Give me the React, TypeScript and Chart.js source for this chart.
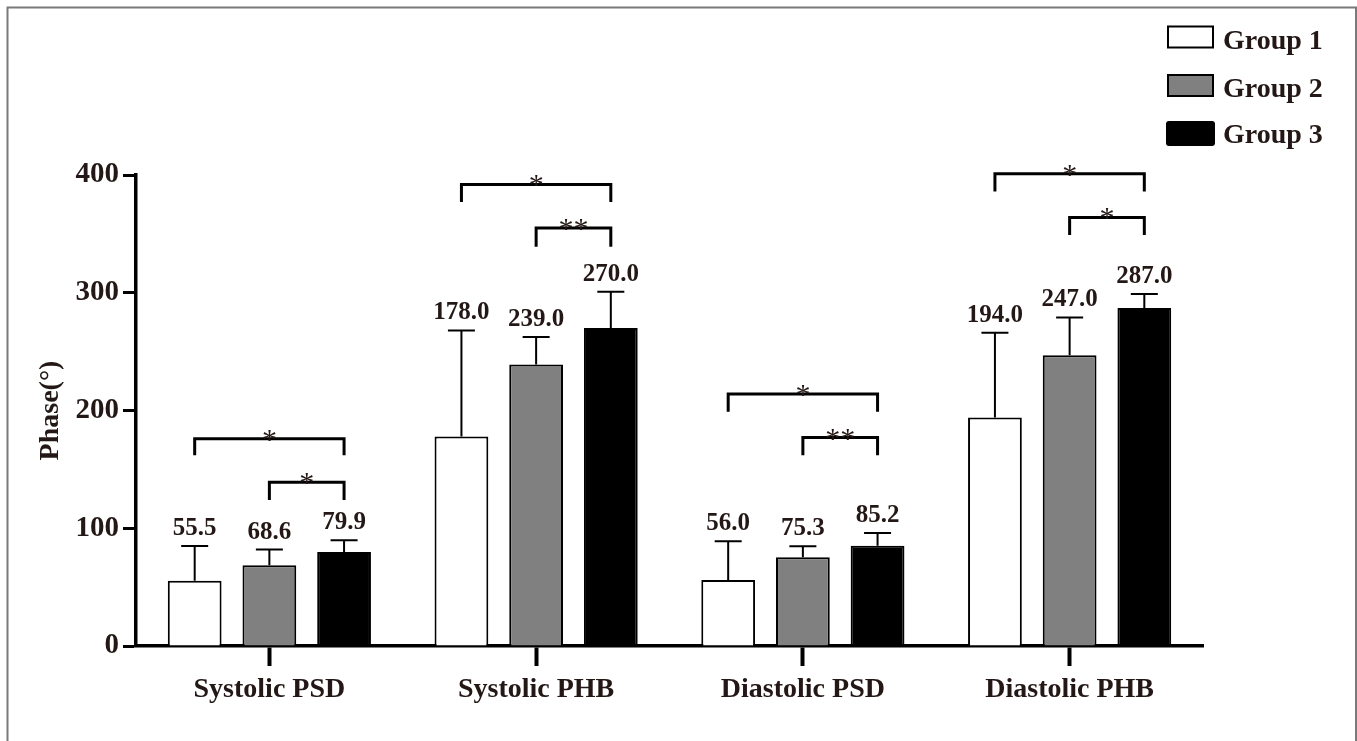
import React, { useEffect, useRef } from 'react';
import { Chart, registerables } from 'chart.js';

Chart.register(...registerables);

const categories = ['Systolic PSD', 'Systolic PHB', 'Diastolic PSD', 'Diastolic PHB'];
const groupLabels = ['Group 1', 'Group 2', 'Group 3'];
const group1Values = [55.5, 178.0, 56.0, 194.0];
const group2Values = [68.6, 239.0, 75.3, 247.0];
const group3Values = [79.9, 270.0, 85.2, 287.0];
const group1Errors = [29.5, 90, 33, 72];
const group2Errors = [13.3, 23.5, 9.4, 32];
const group3Errors = [9.9, 30.8, 10.8, 12];
const yTickValues = [0, 100, 200, 300, 400];
const yTitle = 'Phase(°)';

// significance brackets
const bracketCategory = [0, 0, 1, 1, 2, 2, 3, 3];
const bracketFrom = [0, 1, 0, 1, 0, 1, 0, 1];
const bracketTo = [2, 2, 2, 2, 2, 2, 2, 2];
const bracketLine = [176, 139, 392, 355, 214, 177, 401, 364];
const bracketLeg = [162, 124, 377, 339, 199, 162, 386, 349];
const bracketText = ['*', '*', '*', '**', '*', '**', '*', '*'];

const TEXT = '#231815';
const FONT = '"Liberation Serif", "Times New Roman", serif';
const fills = ['#ffffff', '#808080', '#000000'];
const valueSets = [group1Values, group2Values, group3Values];
const errorSets = [group1Errors, group2Errors, group3Errors];

const overlayPlugin = {
  id: 'overlay',
  beforeDraw(chart: any) {
    const ctx = chart.ctx;
    ctx.save();
    ctx.fillStyle = '#ffffff';
    ctx.fillRect(0, 0, chart.width, chart.height);
    ctx.restore();
  },
  afterDatasetsDraw(chart: any) {
    const ctx = chart.ctx;
    const y = chart.scales.y;
    ctx.save();
    // error bars and value labels
    chart.data.datasets.forEach((ds: any, di: number) => {
      const meta = chart.getDatasetMeta(di);
      meta.data.forEach((bar: any, i: number) => {
        const v = ds.data[i];
        const e = errorSets[di][i];
        const xc = bar.x;
        const yTop = y.getPixelForValue(v);
        const yCap = y.getPixelForValue(v + e);
        ctx.strokeStyle = '#000';
        ctx.lineWidth = 2;
        ctx.beginPath();
        ctx.moveTo(xc, yTop);
        ctx.lineTo(xc, yCap);
        ctx.moveTo(xc - 13.5, yCap);
        ctx.lineTo(xc + 13.5, yCap);
        ctx.stroke();
        ctx.fillStyle = TEXT;
        ctx.font = 'bold 25px ' + FONT;
        ctx.textAlign = 'center';
        ctx.textBaseline = 'alphabetic';
        ctx.fillText(v.toFixed(1), xc, yCap - 11);
      });
    });
    // brackets
    bracketCategory.forEach((c, k) => {
      const b1 = chart.getDatasetMeta(bracketFrom[k]).data[c];
      const b2 = chart.getDatasetMeta(bracketTo[k]).data[c];
      const yl = y.getPixelForValue(bracketLine[k]);
      const yg = y.getPixelForValue(bracketLeg[k]);
      ctx.strokeStyle = '#000';
      ctx.lineWidth = 3;
      ctx.lineJoin = 'miter';
      ctx.lineCap = 'butt';
      ctx.beginPath();
      ctx.moveTo(b1.x, yg);
      ctx.lineTo(b1.x, yl);
      ctx.lineTo(b2.x, yl);
      ctx.lineTo(b2.x, yg);
      ctx.stroke();
      ctx.fillStyle = TEXT;
      ctx.font = '30px ' + FONT;
      ctx.textAlign = 'center';
      ctx.textBaseline = 'alphabetic';
      ctx.fillText(bracketText[k], (b1.x + b2.x) / 2, yl + 10);
    });
    ctx.restore();
  },
  afterDraw(chart: any) {
    const ctx = chart.ctx;
    ctx.save();
    // legend
    const boxX = 1168;
    const boxW = 45;
    const rowY = [37, 85.5, 133.5];
    const textY = [42, 90, 136];
    chart.data.datasets.forEach((ds: any, i: number) => {
      ctx.fillStyle = fills[i];
      ctx.strokeStyle = '#000';
      ctx.lineWidth = 2;
      if (i < 2) {
        ctx.fillRect(boxX, rowY[i] - 10.5, boxW, 21);
        ctx.strokeRect(boxX, rowY[i] - 10.5, boxW, 21);
      } else {
        ctx.beginPath();
        (ctx as any).roundRect(boxX - 2, rowY[i] - 12.5, boxW + 4, 25, 3);
        ctx.fill();
      }
      ctx.fillStyle = TEXT;
      ctx.font = 'bold 28px ' + FONT;
      ctx.textAlign = 'left';
      ctx.textBaseline = 'middle';
      ctx.fillText(ds.label, 1223, textY[i]);
    });
    // outer frame
    ctx.strokeStyle = '#7a7a7a';
    ctx.lineWidth = 2;
    ctx.strokeRect(7.5, 7.5, 1348.5, 745);
    ctx.restore();
  },
};

export default function App() {
  const canvasRef = useRef<HTMLCanvasElement | null>(null);

  useEffect(() => {
    if (!canvasRef.current) return;
    Chart.defaults.font.family = FONT;
    const chart = new Chart(canvasRef.current, {
      type: 'bar',
      data: {
        labels: categories,
        datasets: groupLabels.map((label, i) => ({
          label,
          data: valueSets[i],
          backgroundColor: fills[i],
          borderColor: '#000000',
          borderWidth: 2,
          categoryPercentage: 0.84,
          barPercentage: 0.72,
        })),
      },
      options: {
        responsive: false,
        animation: false,
        layout: { padding: { left: 0, top: 175, right: 154, bottom: 0 } },
        plugins: {
          legend: { display: false },
          tooltip: { enabled: false },
        },
        scales: {
          x: {
            offset: true,
            grid: {
              display: true,
              offset: false,
              drawOnChartArea: false,
              drawTicks: true,
              tickLength: 20,
              tickWidth: 4,
              tickColor: '#000',
            },
            border: { display: true, color: '#000', width: 3.5 },
            ticks: {
              color: TEXT,
              font: { size: 28, weight: 'bold', family: FONT },
              padding: 7,
              maxRotation: 0,
            },
            afterFit: (scale: any) => {
              scale.height = 95;
            },
          },
          y: {
            min: 0,
            max: 400,
            afterBuildTicks: (scale: any) => {
              scale.ticks = yTickValues.map((v) => ({ value: v }));
            },
            grid: {
              display: true,
              drawOnChartArea: false,
              drawTicks: true,
              tickLength: 13,
              tickWidth: 3,
              tickColor: '#000',
            },
            border: { display: true, color: '#000', width: 3.5 },
            ticks: {
              color: TEXT,
              font: { size: 29, weight: 'bold', family: FONT },
              padding: 4,
            },
            title: {
              display: true,
              text: yTitle,
              color: TEXT,
              font: { size: 28, weight: 'bold', family: FONT },
              padding: { top: 34, bottom: 0 },
            },
            afterFit: (scale: any) => {
              scale.width = 136;
            },
          },
        },
      },
      plugins: [overlayPlugin],
    } as any);
    return () => chart.destroy();
  }, []);

  return (
    <div style={{ position: 'fixed', left: 0, top: 0, width: 1357, height: 741, background: '#fff' }}>
      <canvas ref={canvasRef} width={1357} height={741} style={{ width: 1357, height: 741, display: 'block' }} />
    </div>
  );
}
